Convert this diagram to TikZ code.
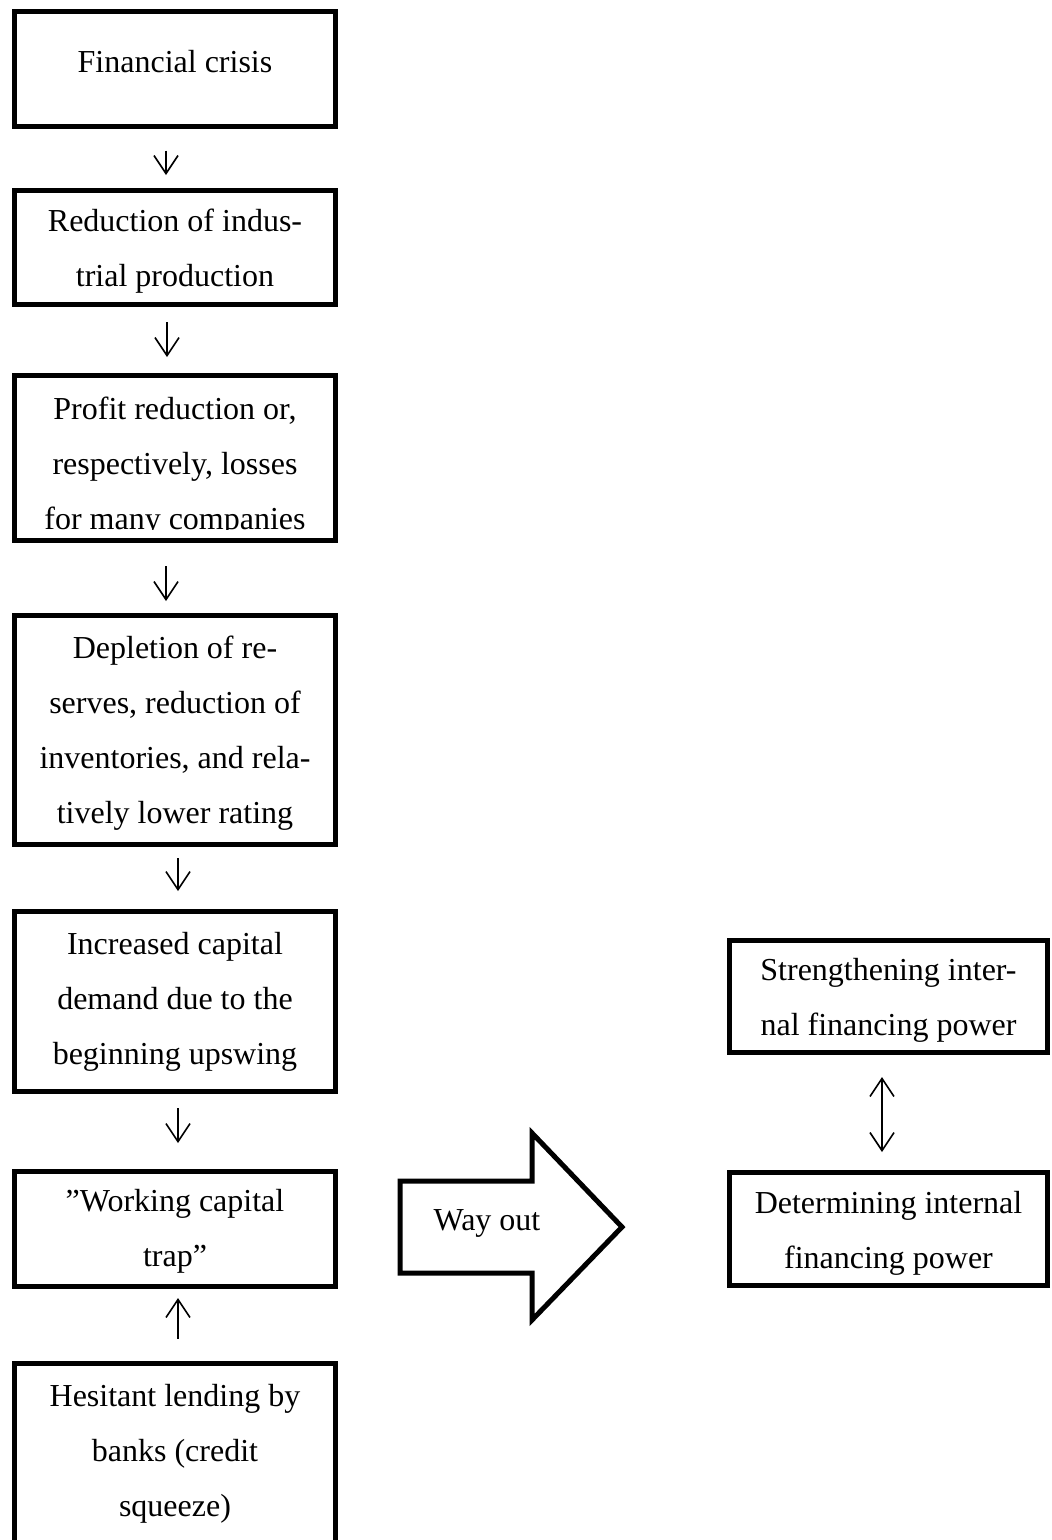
\documentclass[tikz,border=0pt]{standalone}
\usepackage{fontspec}
\setmainfont{Liberation Serif}
\usetikzlibrary{arrows.meta}
\begin{document}
\begin{tikzpicture}[x=1pt,y=-1pt,
  box/.style={draw, line width=5pt, rectangle, inner sep=0pt, outer sep=0pt},
  txt/.style={align=center, inner sep=0pt, font=\fontsize{32}{55}\selectfont},
  barb/.tip={Straight Barb[length=18pt,width=24pt]},
  conn/.style={line width=1.6pt, -barb},
  biconn/.style={line width=1.6pt, barb-barb},
  bigarrow/.style={draw, line width=5pt, line join=miter}]
\useasboundingbox (0,0) rectangle (1052,1540);
% left column
\node[box, minimum width=321pt, minimum height=115pt] (b1) at (175,68.5) {};
\node[txt, yshift=7pt] (t1) at (b1.center) {Financial crisis};
\node[box, minimum width=321pt, minimum height=114pt] (b2) at (175,247.5) {};
\node[txt, yshift=-4pt] (t2) at (b2.center) {Reduction of indus-\\trial production};
\node[box, minimum width=321pt, minimum height=165pt] (b3) at (175,458) {};
\begin{scope}
  \clip (15,376) rectangle (335,529);
  \node[txt] (t3) at (175,467) {Profit reduction or,\\respectively, losses\\for many companies};
\end{scope}
\node[box, minimum width=321pt, minimum height=229pt] (b4) at (175,730) {};
\node[txt, yshift=-3pt] (t4) at (b4.center) {Depletion of re-\\serves, reduction of\\inventories, and rela-\\tively lower rating};
\node[box, minimum width=321pt, minimum height=180pt] (b5) at (175,1001.5) {};
\node[txt] (t5) at (b5.center) {Increased capital\\demand due to the\\beginning upswing};
\node[box, minimum width=321pt, minimum height=115pt] (b6) at (175,1229) {};
\node[txt, yshift=-2pt] (t6) at (b6.center) {”Working capital\\trap”};
\node[box, minimum width=321pt, minimum height=204pt] (b7) at (175,1465) {};
\node[txt] (t7) at (175,1454) {Hesitant lending by\\banks (credit\\squeeze)};
% right column
\node[box, minimum width=318pt, minimum height=112pt] (r1) at (888.5,996.5) {};
\node[txt, yshift=-4pt] (tr1) at (r1.center) {Strengthening inter-\\nal financing power};
\node[box, minimum width=318pt, minimum height=113pt] (r2) at (888.5,1229) {};
\node[txt, yshift=-4pt] (tr2) at (r2.center) {Determining internal\\financing power};
% big arrow
\draw[bigarrow] (400,1181) -- (532,1181) -- (532,1133) -- (622,1227) -- (532,1320) -- (532,1273) -- (400,1273) -- cycle;
\node[txt, anchor=base] (way) at (487,1230) {Way out};
% connectors
\draw[conn, shorten <=24.5pt, shorten >=15.5pt] ([xshift=-9pt]b1.south) -- ([xshift=-9pt]b2.north);
\draw[conn, shorten <=17.5pt, shorten >=18.5pt] ([xshift=-8pt]b2.south) -- ([xshift=-8pt]b3.north);
\draw[conn, shorten <=25.5pt, shorten >=14.5pt] ([xshift=-9pt]b3.south) -- ([xshift=-9pt]b4.north);
\draw[conn, shorten <=13.5pt, shorten >=20.5pt] ([xshift=3pt]b4.south) -- ([xshift=3pt]b5.north);
\draw[conn, shorten <=16.5pt, shorten >=28.5pt] ([xshift=3pt]b5.south) -- ([xshift=3pt]b6.north);
\draw[conn, shorten <=24.5pt, shorten >=11.5pt] ([xshift=3pt]b7.north) -- ([xshift=3pt]b6.south);
\draw[biconn, shorten <=24.5pt, shorten >=20.5pt] ([xshift=-6.5pt]r1.south) -- ([xshift=-6.5pt]r2.north);
\end{tikzpicture}
\end{document}
